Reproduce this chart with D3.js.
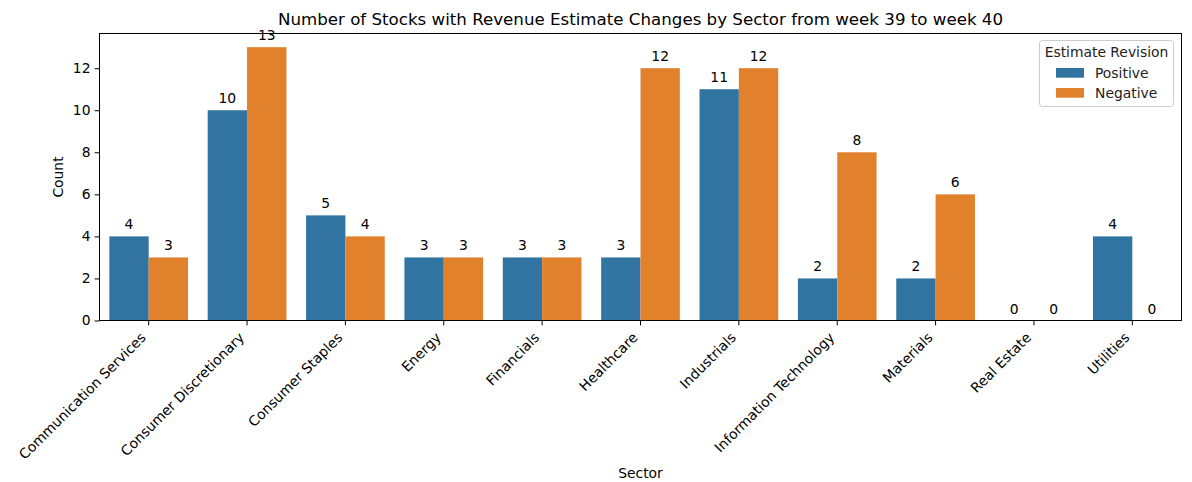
<!DOCTYPE html>
<html><head><meta charset="utf-8">
<script src="https://cdn.jsdelivr.net/npm/d3@7"></script>
<style>body{margin:0;background:#fff}svg{display:block;font-family:"DejaVu Sans",sans-serif}</style>
</head><body><svg id="c" width="1192" height="482"></svg>
<script>
const categories = ["Communication Services","Consumer Discretionary","Consumer Staples","Energy","Financials","Healthcare","Industrials","Information Technology","Materials","Real Estate","Utilities"];
const seriesNames = ["Positive","Negative"];
const positive = [4,10,5,3,3,3,11,2,2,0,4];
const negative = [3,13,4,3,3,12,12,8,6,0,0];
const yTicks = [0,2,4,6,8,10,12];
const colors = ["#3274a1","#e1812c"];

const FS = "13.89px";
const svg = d3.select("#c");
const m = {l:99.5, r:1181.5, t:33.5, b:320.5};
const x = d3.scaleBand().domain(categories).range([m.l,m.r]).paddingInner(0).paddingOuter(0);
const x1 = d3.scaleBand().domain(seriesNames).range([x.bandwidth()*0.1, x.bandwidth()*0.9]);
const y = d3.scaleLinear().domain([0,13.65]).range([m.b,m.t]);

const data = categories.map((c,i)=>({c, vals:[positive[i],negative[i]]}));
const g = svg.append("g");
data.forEach(d=>{
  seriesNames.forEach((s,j)=>{
    const v = d.vals[j];
    const bx = x(d.c)+x1(s);
    g.append("rect").attr("x",bx).attr("y",y(v)).attr("width",x1.bandwidth()).attr("height",y(0)-y(v)).attr("fill",colors[j]);
    g.append("text").attr("x",bx+x1.bandwidth()/2).attr("y",y(v)-7).attr("text-anchor","middle").attr("font-size",FS).attr("fill","#000").text(v);
  });
});

// axes
const yAxis = d3.axisLeft(y).tickValues(yTicks).tickSize(4.86).tickPadding(4.17);
const ya = svg.append("g").attr("transform",`translate(${m.l},0)`).call(yAxis);
ya.attr("font-size",null).attr("font-family",null);
ya.selectAll("text").attr("font-size",FS).attr("fill","#000");
ya.select(".domain").remove();
const xAxis = d3.axisBottom(x).tickSize(4.86).tickPadding(4.17);
const xa = svg.append("g").attr("transform",`translate(0,${m.b})`).call(xAxis);
xa.attr("font-size",null).attr("font-family",null);
xa.select(".domain").remove();
xa.selectAll("text").attr("font-size",FS).attr("fill","#000")
  .attr("text-anchor","end").attr("dy",null).attr("y",0)
  .attr("transform","translate(-2,18) rotate(-45)");
svg.selectAll(".tick line").attr("stroke","#000").attr("stroke-width",1);

svg.append("rect").attr("x",m.l).attr("y",m.t).attr("width",m.r-m.l).attr("height",m.b-m.t).attr("fill","none").attr("stroke","#000").attr("stroke-width",1);

svg.append("text").attr("x",(m.l+m.r)/2).attr("y",25).attr("text-anchor","middle").attr("font-size","16.67px").text("Number of Stocks with Revenue Estimate Changes by Sector from week 39 to week 40");
svg.append("text").attr("x",(m.l+m.r)/2).attr("y",478).attr("text-anchor","middle").attr("font-size",FS).text("Sector");
svg.append("text").attr("transform",`translate(63,${(m.t+m.b)/2}) rotate(-90)`).attr("text-anchor","middle").attr("font-size",FS).text("Count");

// legend
const lg = svg.append("g");
lg.append("rect").attr("x",1039.5).attr("y",40.5).attr("width",134).attr("height",66).attr("rx",3).attr("fill","#fff").attr("fill-opacity",0.8).attr("stroke","#ccc");
lg.append("text").attr("x",1106.5).attr("y",57).attr("text-anchor","middle").attr("font-size",FS).attr("fill","#222").text("Estimate Revision");
seriesNames.forEach((s,j)=>{
  lg.append("rect").attr("x",1056).attr("y",68+j*20).attr("width",28).attr("height",9.7).attr("fill",colors[j]);
  lg.append("text").attr("x",1095).attr("y",78+j*20).attr("font-size",FS).attr("fill","#222").text(s);
});
</script></body></html>
